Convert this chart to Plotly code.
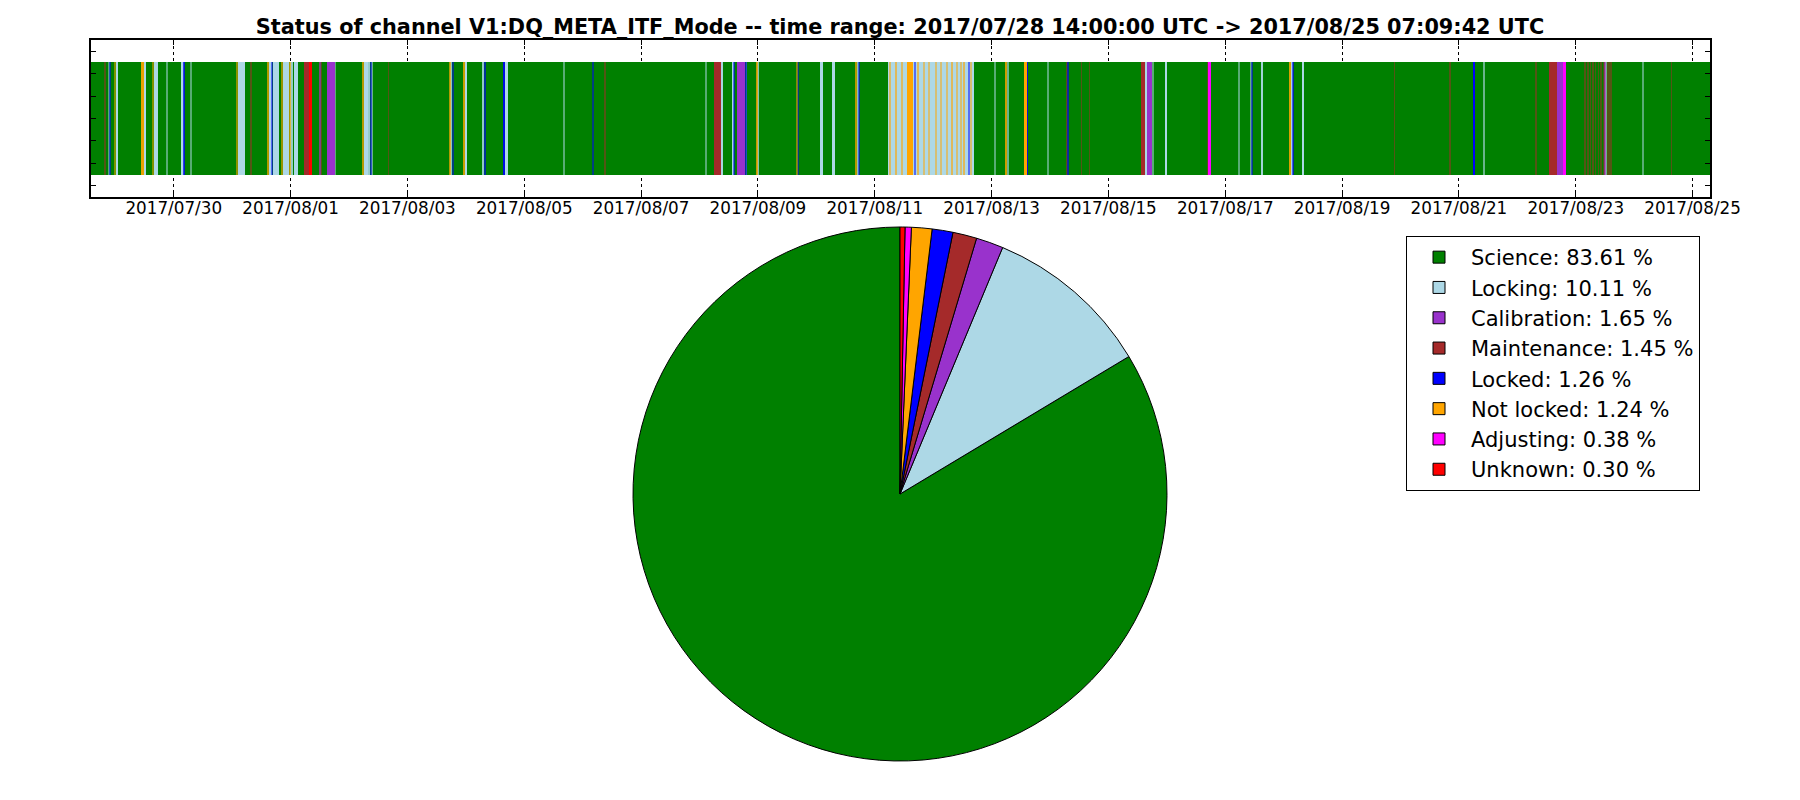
import plotly.graph_objects as go
from datetime import datetime

# ---------------- data ----------------
TITLE = ("Status of channel V1:DQ_META_ITF_Mode -- time range: "
         "2017/07/28 14:00:00 UTC -> 2017/08/25 07:09:42 UTC")
RANGE_START = "2017-07-28 14:00:00"
RANGE_END = "2017-08-25 07:09:42"

STATES = ["Science", "Locking", "Calibration", "Maintenance",
          "Locked", "Not locked", "Adjusting", "Unknown"]
COLORS = ["green", "lightblue", "darkorchid", "brown",
          "blue", "orange", "magenta", "red"]
PERCENT = [83.61, 10.11, 1.65, 1.45, 1.26, 1.24, 0.38, 0.30]

TICK_DATES = ["2017-07-30", "2017-08-01", "2017-08-03", "2017-08-05",
              "2017-08-07", "2017-08-09", "2017-08-11", "2017-08-13",
              "2017-08-15", "2017-08-17", "2017-08-19", "2017-08-21",
              "2017-08-23", "2017-08-25"]

# segments (start, end) as "MM-DD HH:MM" in 2017, UTC
SCIENCE = [("07-28 14:00", "08-25 07:09")]

LOCKING = [
    ("07-28 21:11", "07-28 21:35"), ("07-29 00:07", "07-29 01:04"),
    ("07-29 11:40", "07-29 12:33"), ("07-29 15:50", "07-29 17:29"),
    ("07-29 20:50", "07-29 21:15"), ("07-30 02:55", "07-30 04:09"),
    ("07-30 06:50", "07-30 07:10"), ("07-31 02:20", "07-31 05:10"),
    ("07-31 15:10", "07-31 16:15"), ("07-31 16:40", "07-31 19:10"),
    ("07-31 20:50", "07-31 23:13"), ("08-01 00:10", "08-01 00:52"),
    ("08-01 01:16", "08-01 02:55"), ("08-01 18:05", "08-01 18:30"),
    ("08-02 06:10", "08-02 07:38"), ("08-02 08:02", "08-02 08:45"),
    ("08-02 09:10", "08-02 09:40"), ("08-03 17:50", "08-03 18:30"),
    ("08-03 23:40", "08-04 00:39"), ("08-04 06:49", "08-04 07:30"),
    ("08-04 16:10", "08-04 17:30"), ("08-05 16:15", "08-05 16:40"),
    ("08-08 02:35", "08-08 02:50"), ("08-08 08:52", "08-08 09:40"),
    ("08-08 13:22", "08-08 14:10"), ("08-08 19:10", "08-08 19:31"),
    ("08-08 23:50", "08-09 00:27"), ("08-10 01:53", "08-10 02:42"),
    ("08-10 06:49", "08-10 07:38"), ("08-10 16:50", "08-10 17:29"),
    ("08-11 05:22", "08-12 16:39"), ("08-13 01:05", "08-13 01:30"),
    ("08-13 06:30", "08-13 07:00"), ("08-13 22:50", "08-13 23:15"),
    ("08-15 15:13", "08-15 16:02"), ("08-15 18:05", "08-15 18:30"),
    ("08-15 23:05", "08-16 00:05"), ("08-17 05:22", "08-17 05:47"),
    ("08-17 10:18", "08-17 10:45"), ("08-17 14:49", "08-17 15:35"),
    ("08-18 03:00", "08-18 03:50"), ("08-18 07:38", "08-18 08:27"),
    ("08-21 10:10", "08-21 10:40"), ("08-23 12:15", "08-23 12:45"),
    ("08-24 03:20", "08-24 03:45"),
]

CALIBRATION = [
    ("08-01 14:49", "08-01 18:05"), ("08-08 15:26", "08-08 18:42"),
    ("08-15 16:02", "08-15 18:05"), ("08-22 16:15", "08-22 18:42"),
]

MAINTENANCE = [
    ("07-28 19:44", "07-28 19:55"), ("07-31 07:35", "07-31 07:45"),
    ("08-01 05:22", "08-01 07:50"), ("08-01 12:30", "08-01 12:40"),
    ("08-02 16:10", "08-02 16:20"), ("08-06 09:10", "08-06 09:20"),
    ("08-08 05:59", "08-08 08:52"), ("08-14 06:45", "08-14 07:05"),
    ("08-14 12:55", "08-14 13:05"), ("08-14 16:10", "08-14 16:20"),
    ("08-15 13:35", "08-15 15:13"), ("08-16 16:35", "08-16 16:45"),
    ("08-19 21:20", "08-19 21:30"), ("08-20 20:20", "08-20 20:30"),
    ("08-22 07:35", "08-22 07:45"), ("08-22 12:58", "08-22 16:15"),
    ("08-23 03:45", "08-23 03:58"), ("08-23 04:50", "08-23 05:03"),
    ("08-23 05:55", "08-23 06:08"), ("08-23 07:00", "08-23 07:13"),
    ("08-23 08:05", "08-23 08:18"), ("08-23 09:12", "08-23 09:25"),
    ("08-23 10:15", "08-23 10:28"), ("08-23 11:18", "08-23 11:31"),
    ("08-23 13:05", "08-23 13:18"), ("08-23 13:55", "08-23 14:08"),
    ("08-23 14:30", "08-23 14:43"), ("08-24 15:22", "08-24 15:32"),
]

LOCKED = [
    ("07-28 21:35", "07-28 21:54"), ("07-30 04:09", "07-30 04:45"),
    ("07-31 16:15", "07-31 16:40"), ("08-02 08:45", "08-02 09:10"),
    ("08-03 18:30", "08-03 18:55"), ("08-04 07:30", "08-04 08:00"),
    ("08-04 15:26", "08-04 16:10"), ("08-06 04:10", "08-06 04:35"),
    ("08-08 14:10", "08-08 14:36"), ("08-08 18:42", "08-08 19:10"),
    ("08-09 16:10", "08-09 16:30"), ("08-10 17:29", "08-10 17:53"),
    ("08-11 16:20", "08-11 16:40"), ("08-12 14:30", "08-12 14:45"),
    ("08-13 14:24", "08-13 15:05"), ("08-14 07:05", "08-14 07:35"),
    ("08-17 10:45", "08-17 11:07"), ("08-18 03:50", "08-18 04:20"),
    ("08-21 05:40", "08-21 06:30"),
]

NOT_LOCKED = [
    ("07-28 23:43", "07-29 00:07"), ("07-29 10:55", "07-29 11:40"),
    ("07-29 15:26", "07-29 15:50"), ("07-31 01:53", "07-31 02:20"),
    ("07-31 14:36", "07-31 15:10"), ("07-31 20:21", "07-31 20:50"),
    ("07-31 23:38", "08-01 00:10"), ("08-02 05:35", "08-02 06:10"),
    ("08-03 17:16", "08-03 17:50"), ("08-03 23:01", "08-03 23:40"),
    ("08-08 23:13", "08-08 23:50"), ("08-09 15:45", "08-09 16:10"),
    ("08-10 16:15", "08-10 16:50"), ("08-11 06:12", "08-11 06:40"),
    ("08-11 08:40", "08-11 09:10"), ("08-11 11:07", "08-11 11:35"),
    ("08-11 13:10", "08-11 14:24"), ("08-11 14:49", "08-11 15:38"),
    ("08-11 17:30", "08-11 18:00"), ("08-11 20:10", "08-11 20:30"),
    ("08-11 22:15", "08-11 22:35"), ("08-12 00:55", "08-12 01:15"),
    ("08-12 03:10", "08-12 03:30"), ("08-12 05:25", "08-12 05:45"),
    ("08-12 07:20", "08-12 07:50"), ("08-12 09:30", "08-12 09:50"),
    ("08-12 11:10", "08-12 11:30"), ("08-12 12:40", "08-12 13:10"),
    ("08-12 15:30", "08-12 15:55"), ("08-13 05:50", "08-13 06:30"),
    ("08-13 13:10", "08-13 14:24"), ("08-18 02:18", "08-18 03:00"),
]

ADJUSTING = [
    ("08-01 11:45", "08-01 12:10"), ("08-16 17:04", "08-16 18:18"),
    ("08-22 19:07", "08-22 19:56"), ("08-23 11:56", "08-23 12:15"),
]

UNKNOWN = [("08-01 07:50", "08-01 08:39")]

SEGMENTS = [SCIENCE, LOCKING, CALIBRATION, MAINTENANCE,
            LOCKED, NOT_LOCKED, ADJUSTING, UNKNOWN]

# ---------------- figure ----------------
FONT = "DejaVu Sans"
PX_MINUTES = 24.6  # approx. minutes covered by one pixel of the timeline


def parse(s):
    return datetime.strptime("2017-" + s, "%Y-%m-%d %H:%M")


fig = go.Figure()

for name, color, segs in zip(STATES, COLORS, SEGMENTS):
    starts = [parse(a) for a, b in segs]
    mins = [(parse(b) - parse(a)).total_seconds() / 60.0 for a, b in segs]
    durs = [m * 60000.0 for m in mins]
    # thin (sub-pixel) stripes are rendered partially, like antialiasing
    opac = [min(1.0, max(0.5, m / (2.0 * PX_MINUTES))) for m in mins]
    fig.add_trace(go.Bar(
        x=durs, base=starts, y=[0.6] * len(segs), orientation="h",
        width=1.0, marker=dict(color=color, opacity=opac, line=dict(width=0)),
        showlegend=False, name=name, xaxis="x", yaxis="y",
        hoverinfo="skip",
    ))

# matplotlib-style pie: first wedge starts at 12 o'clock, counterclockwise
first_angle = 360.0 * (1.0 - PERCENT[0] / sum(PERCENT))
labels = [f"{s}: {p:.2f} %" for s, p in zip(STATES, PERCENT)]
fig.add_trace(go.Pie(
    labels=labels, values=PERCENT, sort=False, direction="counterclockwise",
    rotation=first_angle, textinfo="none", hoverinfo="label",
    marker=dict(colors=COLORS, line=dict(color="black", width=1)),
    domain=dict(x=[633 / 1800, 1167 / 1800], y=[1 - 761 / 800, 1 - 227 / 800]),
    showlegend=True,
))

fig.update_layout(
    width=1800, height=800, autosize=False,
    margin=dict(l=0, r=0, t=0, b=0, pad=0, autoexpand=False),
    paper_bgcolor="white", plot_bgcolor="white",
    barmode="overlay", bargap=0,
    font=dict(family=FONT, color="black"),
    title=dict(text="<b>" + TITLE + "</b>", x=0.5, xanchor="center",
               y=1 - 27 / 800, yanchor="middle",
               font=dict(family=FONT, size=20.8, color="black")),
    xaxis=dict(
        type="date", domain=[91 / 1800, 1710 / 1800],
        range=[RANGE_START, RANGE_END], automargin=False,
        tickvals=TICK_DATES, tickformat="%Y/%m/%d",
        tickfont=dict(family=FONT, size=16.8, color="black"),
        ticklabelstandoff=-5,
        ticks="inside", ticklen=5, tickcolor="black", tickwidth=1,
        showline=True, linecolor="black", linewidth=1.5, mirror="allticks",
        showgrid=True, gridcolor="black", griddash="dot", gridwidth=1,
        layer="above traces", zeroline=False, anchor="y",
    ),
    yaxis=dict(
        domain=[1 - 197 / 800, 1 - 40 / 800], range=[-0.1, 1.3],
        automargin=False,
        tickvals=[0, 0.2, 0.4, 0.6, 0.8, 1.0, 1.2], showticklabels=False,
        ticks="inside", ticklen=5, tickcolor="black",
        showline=True, linecolor="black", linewidth=1.5, mirror="allticks",
        showgrid=False, zeroline=False, layer="above traces", anchor="x",
    ),
    legend=dict(
        x=1406 / 1800, y=1 - 236 / 800, xanchor="left", yanchor="top",
        bgcolor="white", bordercolor="black", borderwidth=1,
        font=dict(family=FONT, size=21, color="black"),
        traceorder="normal", itemwidth=54,
    ),
)

fig.write_html(
    "out.html",
    config={"displayModeBar": False, "responsive": False},
    post_script="document.body.style.margin='0px';"
                "document.body.style.overflow='hidden';",
)
